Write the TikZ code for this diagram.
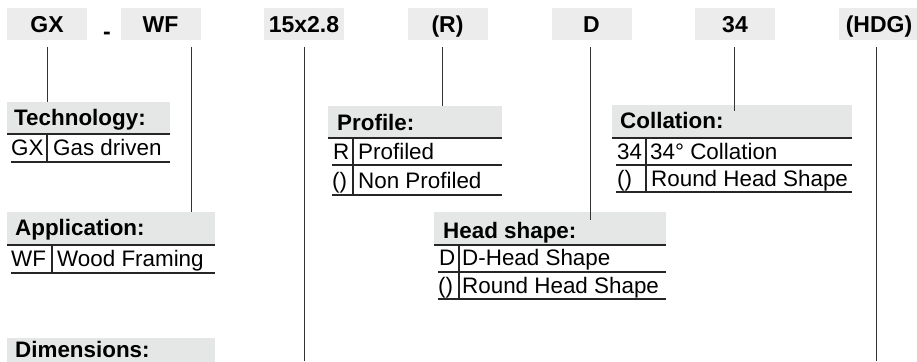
\documentclass[tikz,border=0pt]{standalone}
\usepackage{fontspec}
\setmainfont{Liberation Sans}
\usetikzlibrary{positioning}

\definecolor{codegray}{RGB}{236,236,236}
\definecolor{headgray}{RGB}{229,230,230}
\definecolor{linegray}{RGB}{51,51,51}

\tikzset{
    codebox/.style={fill=codegray, minimum width=80pt, minimum height=32pt, inner sep=0pt,
        text height=17pt, text depth=0pt, font=\fontsize{23}{27}\selectfont\bfseries},
    headbox/.style={fill=headgray, anchor=north west, minimum height=33pt, inner sep=0pt},
    headtxt/.style={anchor=base west, inner sep=0pt, font=\fontsize{22.4}{26}\selectfont\bfseries},
    cell/.style={anchor=base west, inner sep=0pt, font=\fontsize{22.4}{26}\selectfont},
    rule/.style={line width=1.1pt, black!85},
    conn/.style={line width=1pt, linegray, shorten <=7pt}
}

\begin{document}
\begin{tikzpicture}[x=1pt, y=-1pt]
    \useasboundingbox (0,0) rectangle (917,361);
    \coordinate (cut) at (0,361);

    % order code
    \node[codebox] (gx) at (47,24) {GX};
    \node[cell, font=\fontsize{23}{27}\selectfont\bfseries] (dash) at (103,40) {-};
    \node[codebox] (wf) at (160.5,24) {WF};
    \node[codebox] (dim) at (304,24) {15x2.8};
    \node[codebox] (prof) at (447.5,24) {(R)};
    \node[codebox] (head) at (591.5,24) {D};
    \node[codebox] (coll) at (735,24) {34};
    \node[codebox] (hdg) at (879,24) {(HDG)};

    % Technology
    \node[headbox, minimum width=163pt] (tech) at (7,102) {};
    \node[headtxt] at (14,125) {Technology:};
    \draw[rule] (7,134) -- (170,134);
    \node[cell] at (11,155) {GX}; \node[cell] at (53,155) {Gas driven};
    \draw[rule] (11,162) -- (170,162);
    \draw[rule] (47,134) -- (47,162);

    % Application
    \node[headbox, minimum width=208pt] (appl) at (7,212) {};
    \node[headtxt] at (15,235) {Application:};
    \draw[rule] (7,245) -- (215,245);
    \node[cell] at (11,266) {WF}; \node[cell] at (57,266) {Wood Framing};
    \draw[rule] (11,273) -- (215,273);
    \draw[rule] (52,245) -- (52,273);

    % Dimensions
    \node[headbox, minimum width=208pt] (dims) at (7,338) {};
    \node[headtxt] at (15,357) {Dimensions:};

    % Profile
    \node[headbox, minimum width=174pt, minimum height=32pt] (profl) at (328,106) {};
    \node[headtxt] at (337,130) {Profile:};
    \draw[rule] (328,138) -- (502,138);
    \node[cell] at (333,159) {R}; \node[cell] at (358,159) {Profiled};
    \draw[rule] (332,165) -- (502,165);
    \node[cell] at (332,188) {()}; \node[cell] at (358,188) {Non Profiled};
    \draw[rule] (332,195) -- (502,195);
    \draw[rule] (353,138) -- (353,195);

    % Head shape
    \node[headbox, minimum width=232pt] (heads) at (434,212) {};
    \node[headtxt] at (443,238) {Head shape:};
    \draw[rule] (434,245) -- (666,245);
    \node[cell] at (439,265) {D}; \node[cell] at (462,265) {D-Head Shape};
    \draw[rule] (438,272) -- (666,272);
    \node[cell] at (438,293) {()}; \node[cell] at (462,293) {Round Head Shape};
    \draw[rule] (438,299) -- (666,299);
    \draw[rule] (459,245) -- (459,299);

    % Collation
    \node[headbox, minimum width=240pt] (colla) at (612,105) {};
    \node[headtxt] at (620,128) {Collation:};
    \draw[rule] (612,138) -- (852,138);
    \node[cell] at (617,159) {34}; \node[cell] at (650,159) {34° Collation};
    \draw[rule] (616,165) -- (852,165);
    \node[cell] at (617,186) {()}; \node[cell] at (651,186) {Round Head Shape};
    \draw[rule] (616,192) -- (852,192);
    \draw[rule] (646,138) -- (646,192);

    % connectors
    \draw[conn] (gx) -- (gx |- tech.north);
    \draw[conn] ([xshift=-9pt]wf.south east) -- ([xshift=-9pt]wf.south east |- appl.north);
    \draw[conn] (dim) -- (dim |- cut);
    \draw[conn] ([xshift=-5pt]prof.south) -- ([xshift=-5pt]prof.south |- profl.north);
    \draw[conn] ([xshift=-1pt]head.south) -- ([xshift=-1pt,yshift=-8pt]head.south |- heads.north);
    \draw[conn] ([xshift=-1pt]coll.south) -- ([xshift=-1pt,yshift=-6pt]coll.south |- colla.north);
    \draw[conn] ([xshift=-3pt]hdg.south) -- ([xshift=-3pt]hdg.south |- cut);
\end{tikzpicture}
\end{document}
